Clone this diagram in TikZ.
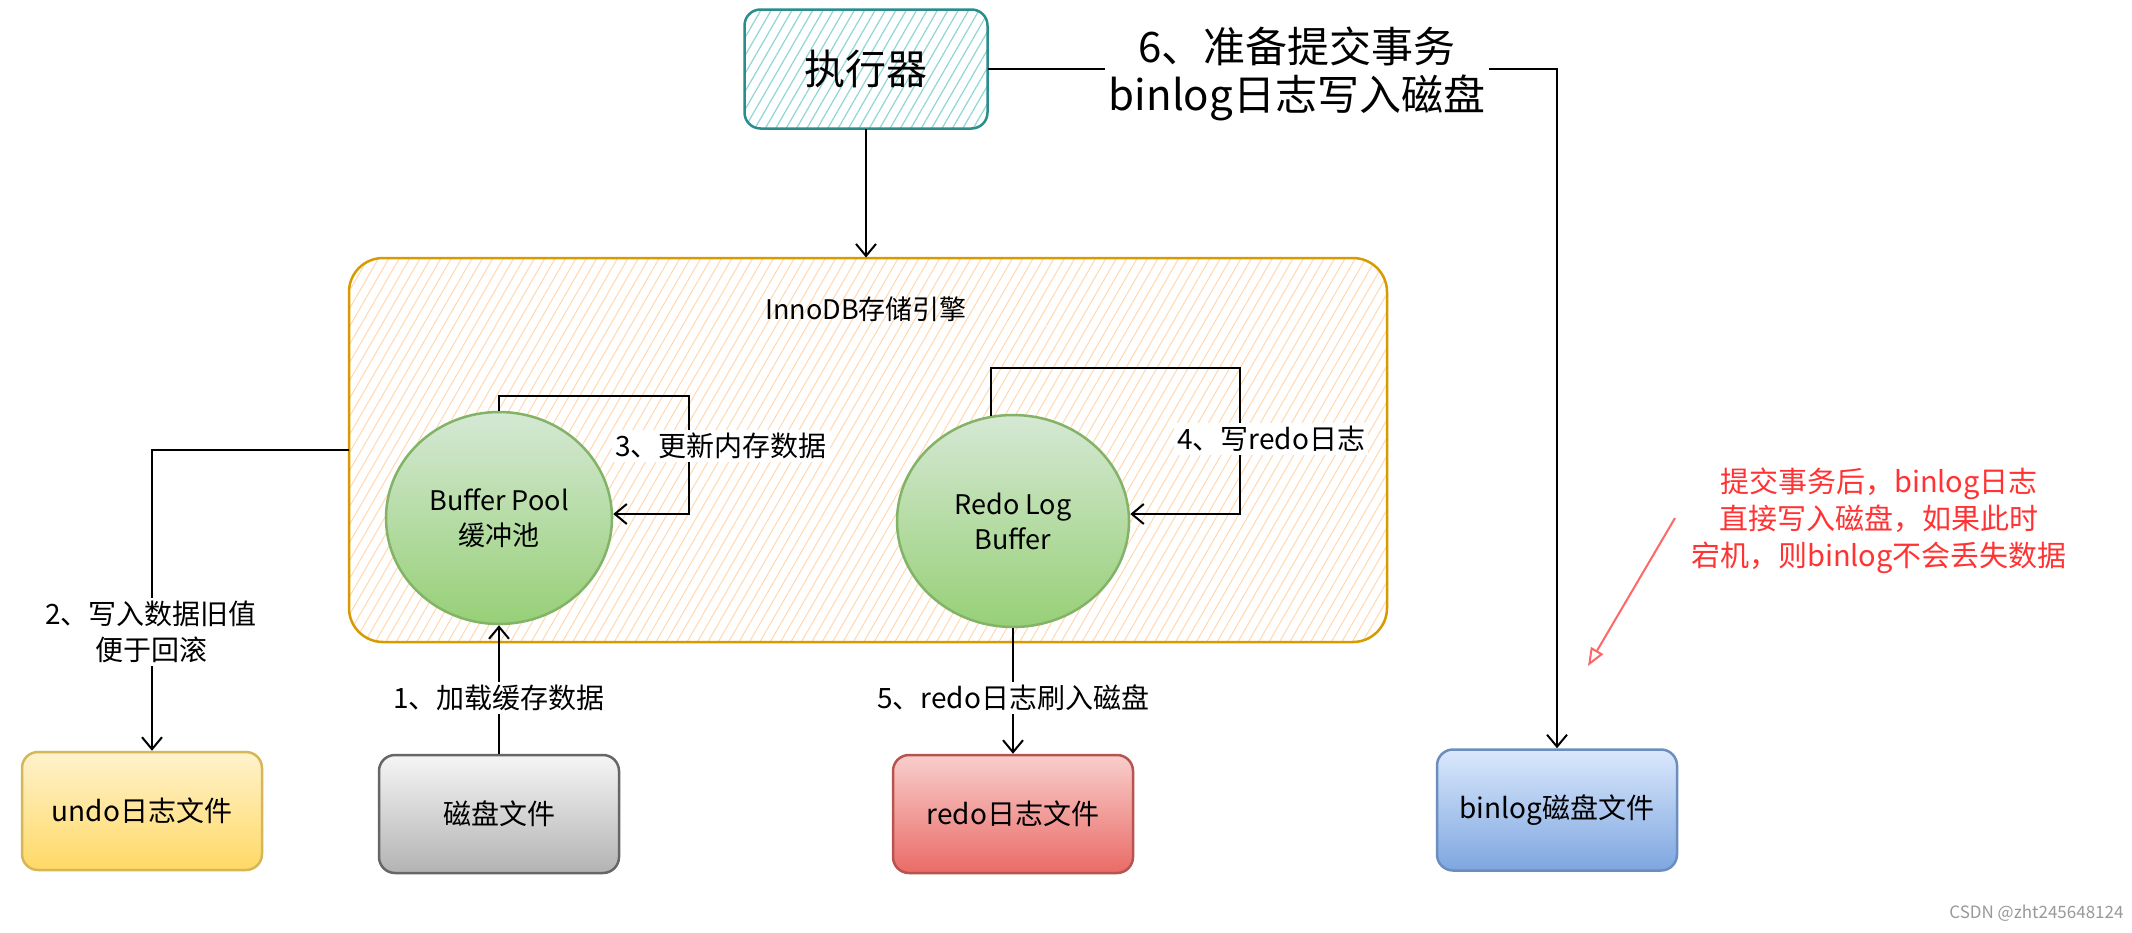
\documentclass[tikz,border=0pt]{standalone}
\usepackage{fontspec}
\setmainfont{Noto Sans CJK SC}
\usetikzlibrary{arrows.meta,patterns.meta,shapes.geometric,calc}
\definecolor{tealS}{HTML}{2A8C8C}
\definecolor{tealH}{HTML}{8FD6D6}
\definecolor{innoS}{HTML}{D79B00}
\definecolor{innoH}{HTML}{FFD8B0}
\definecolor{grnT}{HTML}{D5E8D4}
\definecolor{grnB}{HTML}{97D077}
\definecolor{grnS}{HTML}{82B366}
\definecolor{yelT}{HTML}{FFF2CC}
\definecolor{yelB}{HTML}{FFD966}
\definecolor{yelS}{HTML}{D6B656}
\definecolor{gryT}{HTML}{F5F5F5}
\definecolor{gryB}{HTML}{B3B3B3}
\definecolor{gryS}{HTML}{666666}
\definecolor{redT}{HTML}{F8CECC}
\definecolor{redB}{HTML}{EA6B66}
\definecolor{redS}{HTML}{B85450}
\definecolor{bluT}{HTML}{DAE8FC}
\definecolor{bluB}{HTML}{7EA6E0}
\definecolor{bluS}{HTML}{6C8EBF}
\definecolor{noteC}{HTML}{FF3333}
\definecolor{noteA}{HTML}{FF6666}
\begin{document}
\begin{tikzpicture}[x=1pt,y=-1pt,
  filebox/.style={draw, line width=2.5pt, rounded corners=16pt, minimum width=240pt, minimum height=118pt, inner sep=0pt, font=\fontsize{28}{32}\selectfont},
  ell/.style={ellipse, draw=grnS, line width=2.5pt, top color=grnT, bottom color=grnB, inner sep=0pt, align=center, font=\fontsize{27}{35}\selectfont},
  lbl/.style={fill=white, inner sep=3pt, align=center, font=\fontsize{28}{36}\selectfont},
  arr/.style={line width=2pt, -{Straight Barb[length=12pt,width=20pt,line width=2pt]}},
  ln/.style={line width=2pt}
]
\useasboundingbox[fill=white] (0,0) rectangle (2132,932);

% executor
\node[draw=tealS, line width=2.5pt, rounded corners=16pt, minimum width=243pt, minimum height=119pt,
  pattern={Lines[angle=60,distance=9pt,line width=1.2pt]}, pattern color=tealH,
  font=\fontsize{41}{46}\selectfont] (exec) at (866,69) {执行器};

% InnoDB container
\node[draw=innoS, line width=2.5pt, rounded corners=34pt, minimum width=1038pt, minimum height=384pt,
  pattern={Lines[angle=60,distance=9pt,line width=1pt]}, pattern color=innoH] (inno) at (868,450) {};
\node[font=\fontsize{27}{30}\selectfont] (innol) at (866,309) {InnoDB存储引擎};

% ellipses
\node[ell, minimum width=226pt, minimum height=212pt] (bp) at (499,518) {Buffer Pool\\缓冲池};
\node[ell, minimum width=232pt, minimum height=212pt] (rlb) at (1013,521) {Redo Log\\Buffer};

% file boxes
\node[filebox, draw=yelS, top color=yelT, bottom color=yelB] (undo) at (142,811) {undo日志文件};
\node[filebox, draw=gryS, top color=gryT, bottom color=gryB] (disk) at (499,814) {磁盘文件};
\node[filebox, draw=redS, top color=redT, bottom color=redB] (redo) at (1013,814) {redo日志文件};
\node[filebox, draw=bluS, top color=bluT, bottom color=bluB, minimum height=121pt] (binlog) at (1557,810) {binlog磁盘文件};

% connectors
\coordinate (l3) at (689,396);
\coordinate (l4a) at (991,368);
\coordinate (l4b) at (1240,368);
\draw[arr] (exec.south) -- (exec.south |- inno.north);
\draw[arr] (exec.east) -| (binlog.north);
\draw[arr] (inno.west) -| ([xshift=10pt]undo.north);
\draw[arr] (disk.north) -- (bp.south);
\draw[arr] (rlb.south) -- (redo.north);
\draw[arr] (bp.north) |- (l3) |- ([yshift=4pt]bp.east);
\draw[arr] ([xshift=-22pt,yshift=-2pt]rlb.north) -- (l4a) -- (l4b) |- ([yshift=7pt]rlb.east);

% labels
\node[lbl, font=\fontsize{42}{48}\selectfont, inner sep=4pt] (t6) at (1297,74) {6、准备提交事务\\binlog日志写入磁盘};
\node[lbl] (t2) at (151,632) {2、写入数据旧值\\便于回滚};
\node[lbl] (t1) at (499,698) {1、加载缓存数据};
\node[lbl] (t5) at (1013,698) {5、redo日志刷入磁盘};
\node[lbl] (t3) at (721,446) {3、更新内存数据};
\node[lbl] (t4) at (1271,439) {4、写redo日志};

% red note
\node[text=noteC, align=center, font=\fontsize{29}{37}\selectfont] (note) at (1879,521)
  {提交事务后，binlog日志\\直接写入磁盘，如果此时\\宕机，则binlog不会丢失数据};
\coordinate (na) at (1675,518);
\coordinate (nb) at (1588,666);
\draw[noteA, line width=2pt, -{Triangle[open,length=18pt,width=14pt,line width=2pt]}] (na) -- (nb);

% watermark
\node[text=gray!80, font=\fontsize{17}{20}\selectfont, anchor=east] (wm) at (2127,913) {CSDN @zht245648124};
\end{tikzpicture}
\end{document}
